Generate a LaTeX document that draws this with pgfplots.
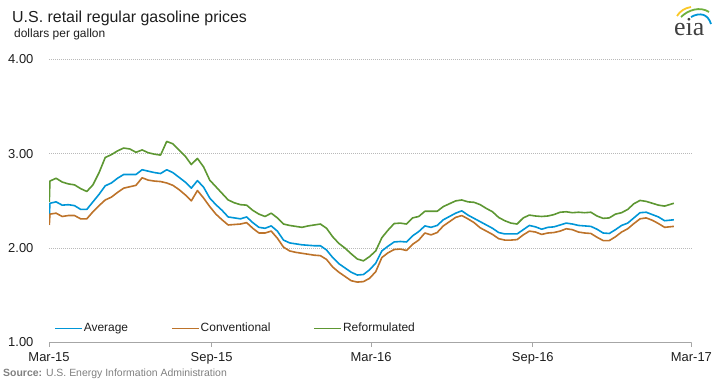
\documentclass[border=0pt]{standalone}
\usepackage{fontspec}
\setmainfont{Liberation Sans}
\newfontfamily\logofont{Liberation Serif}
\usepackage{pgfplots}
\pgfplotsset{compat=1.18}
\definecolor{cavg}{RGB}{0,150,215}
\definecolor{cconv}{RGB}{189,115,42}
\definecolor{cref}{RGB}{93,151,50}
\definecolor{txt}{RGB}{30,30,30}
\definecolor{srcgray}{RGB}{128,128,128}
\begin{document}
\begin{tikzpicture}[x=1bp,y=1bp]
\path[use as bounding box] (0,0) rectangle (719,384);
\begin{axis}[
  at={(49bp,41.5bp)}, anchor=south west,
  scale only axis, width=642.4bp, height=283.2bp,
  xmin=-0.15, xmax=104.36, ymin=1, ymax=4,
  axis x line*=bottom, axis y line*=left,
  y axis line style={draw=none},
  x axis line style={draw=gray!70, line width=0.8bp},
  ytick={1,2,3,4}, yticklabels={1.00,2.00,3.00,4.00},
  ytick style={draw=none},
  ymajorgrids,
  grid style={gray!55, dash pattern=on 1bp off 1bp, line width=0.6bp},
  xtick={-0.15,26.3,52.24,78.56,104.36},
  xticklabels={Mar-15,Sep-15,Mar-16,Sep-16,Mar-17},
  tick align=outside, major tick length=4bp,
  x tick style={draw=gray!70, line width=0.8bp},
  xticklabel style={font=\fontsize{13}{15}\selectfont, text=txt, inner sep=0pt, yshift=-6bp},
  yticklabel style={font=\fontsize{13}{15}\selectfont, text=txt, anchor=west, xshift=-37bp, inner sep=0pt},
  legend columns=3,
  legend style={draw=none, fill=none, at={(axis description cs:0.0078,0.050)}, anchor=west,
    font=\fontsize{12}{14}\selectfont, text=txt, inner sep=0pt,
    /tikz/every even column/.append style={column sep=42bp},
    nodes={inner sep=1bp}},
  legend image code/.code={\draw[#1] (0bp,0bp) -- (27bp,0bp);},
  every axis plot/.append style={line width=1.6bp, line join=round},
]
\addplot[cavg] coordinates {(-0.1,2.33) (0,2.475) (1,2.49) (2,2.455) (3,2.46) (4,2.45) (5,2.41) (6,2.41) (7,2.49) (8,2.57) (9,2.66) (10,2.69) (11,2.74) (12,2.78) (13,2.78) (14,2.78) (15,2.83) (16,2.815) (17,2.80) (18,2.79) (19,2.83) (20,2.80) (21,2.75) (22,2.70) (23,2.635) (24,2.715) (25,2.645) (26,2.53) (27,2.46) (28,2.40) (29,2.33) (30,2.32) (31,2.31) (32,2.33) (33,2.27) (34,2.22) (35,2.21) (36,2.235) (37,2.18) (38,2.085) (39,2.055) (40,2.045) (41,2.035) (42,2.03) (43,2.025) (44,2.025) (45,1.98) (46,1.90) (47,1.835) (48,1.79) (49,1.745) (50,1.715) (51,1.72) (52,1.77) (53,1.84) (54,1.97) (55,2.02) (56,2.065) (57,2.07) (58,2.065) (59,2.13) (60,2.175) (61,2.235) (62,2.22) (63,2.24) (64,2.30) (65,2.335) (66,2.37) (67,2.395) (68,2.35) (69,2.315) (70,2.28) (71,2.245) (72,2.21) (73,2.165) (74,2.15) (75,2.15) (76,2.15) (77,2.195) (78,2.24) (79,2.225) (80,2.20) (81,2.22) (82,2.225) (83,2.245) (84,2.265) (85,2.255) (86,2.24) (87,2.235) (88,2.23) (89,2.20) (90,2.16) (91,2.155) (92,2.195) (93,2.24) (94,2.265) (95,2.32) (96,2.375) (97,2.38) (98,2.355) (99,2.33) (100,2.29) (101.5,2.30)};
\addlegendentry{Average}
\addplot[cconv] coordinates {(-0.1,2.245) (0,2.36) (1,2.37) (2,2.335) (3,2.345) (4,2.345) (5,2.31) (6,2.31) (7,2.385) (8,2.45) (9,2.51) (10,2.54) (11,2.59) (12,2.635) (13,2.65) (14,2.665) (15,2.745) (16,2.72) (17,2.71) (18,2.705) (19,2.69) (20,2.665) (21,2.62) (22,2.565) (23,2.50) (24,2.61) (25,2.53) (26,2.44) (27,2.36) (28,2.30) (29,2.245) (30,2.25) (31,2.255) (32,2.27) (33,2.21) (34,2.16) (35,2.16) (36,2.18) (37,2.105) (38,2.01) (39,1.97) (40,1.955) (41,1.945) (42,1.935) (43,1.925) (44,1.92) (45,1.88) (46,1.80) (47,1.745) (48,1.70) (49,1.655) (50,1.64) (51,1.645) (52,1.68) (53,1.75) (54,1.90) (55,1.95) (56,1.985) (57,1.99) (58,1.975) (59,2.04) (60,2.085) (61,2.16) (62,2.14) (63,2.165) (64,2.235) (65,2.28) (66,2.325) (67,2.345) (68,2.31) (69,2.27) (70,2.215) (71,2.18) (72,2.145) (73,2.10) (74,2.085) (75,2.085) (76,2.09) (77,2.14) (78,2.18) (79,2.17) (80,2.145) (81,2.16) (82,2.165) (83,2.18) (84,2.205) (85,2.195) (86,2.17) (87,2.16) (88,2.155) (89,2.115) (90,2.08) (91,2.08) (92,2.12) (93,2.17) (94,2.205) (95,2.26) (96,2.31) (97,2.32) (98,2.295) (99,2.26) (100,2.22) (101.5,2.23)};
\addlegendentry{Conventional}
\addplot[cref] coordinates {(-0.1,2.49) (0,2.71) (1,2.74) (2,2.70) (3,2.68) (4,2.67) (5,2.63) (6,2.60) (7,2.67) (8,2.80) (9,2.96) (10,2.99) (11,3.03) (12,3.06) (13,3.05) (14,3.015) (15,3.04) (16,3.01) (17,2.995) (18,2.985) (19,3.13) (20,3.105) (21,3.04) (22,2.975) (23,2.885) (24,2.95) (25,2.86) (26,2.72) (27,2.65) (28,2.58) (29,2.51) (30,2.48) (31,2.46) (32,2.455) (33,2.40) (34,2.36) (35,2.335) (36,2.37) (37,2.32) (38,2.255) (39,2.24) (40,2.23) (41,2.22) (42,2.235) (43,2.245) (44,2.255) (45,2.21) (46,2.12) (47,2.05) (48,2.00) (49,1.94) (50,1.885) (51,1.865) (52,1.91) (53,1.97) (54,2.11) (55,2.19) (56,2.26) (57,2.265) (58,2.255) (59,2.32) (60,2.335) (61,2.39) (62,2.39) (63,2.39) (64,2.44) (65,2.47) (66,2.50) (67,2.51) (68,2.49) (69,2.485) (70,2.46) (71,2.42) (72,2.385) (73,2.325) (74,2.29) (75,2.265) (76,2.255) (77,2.32) (78,2.35) (79,2.34) (80,2.335) (81,2.34) (82,2.355) (83,2.38) (84,2.385) (85,2.375) (86,2.38) (87,2.375) (88,2.38) (89,2.34) (90,2.315) (91,2.32) (92,2.36) (93,2.375) (94,2.41) (95,2.47) (96,2.505) (97,2.495) (98,2.475) (99,2.455) (100,2.445) (101.5,2.475)};
\addlegendentry{Reformulated}
\end{axis}
\node[anchor=base west, inner sep=0pt, font=\fontsize{16}{19}\selectfont, text=txt] at (12,362) {U.S. retail regular gasoline prices};
\node[anchor=base west, inner sep=0pt, font=\fontsize{12}{14}\selectfont, text=txt] at (14,346.5) {dollars per gallon};
\node[anchor=base west, inner sep=0pt, font=\fontsize{10.5}{12}\selectfont, text=srcgray] at (3,8) {\textbf{Source:} U.S. Energy Information Administration};
\node[anchor=base west, inner sep=0pt, font=\logofont\fontsize{26}{28}\selectfont, text=black!75] at (674,349) {eia};
\draw[line width=1.8bp, color={rgb,255:red,250;green,200;blue,40}] (677,368) .. controls (680,373) and (685,376) .. (691,377);
\draw[line width=1.8bp, color={rgb,255:red,110;green,175;blue,60}] (681,367) .. controls (688,374) and (700,378) .. (709,372);
\draw[line width=1.8bp, color=cavg] (691,367) .. controls (700,372) and (708,370) .. (711,360);
\end{tikzpicture}
\end{document}
